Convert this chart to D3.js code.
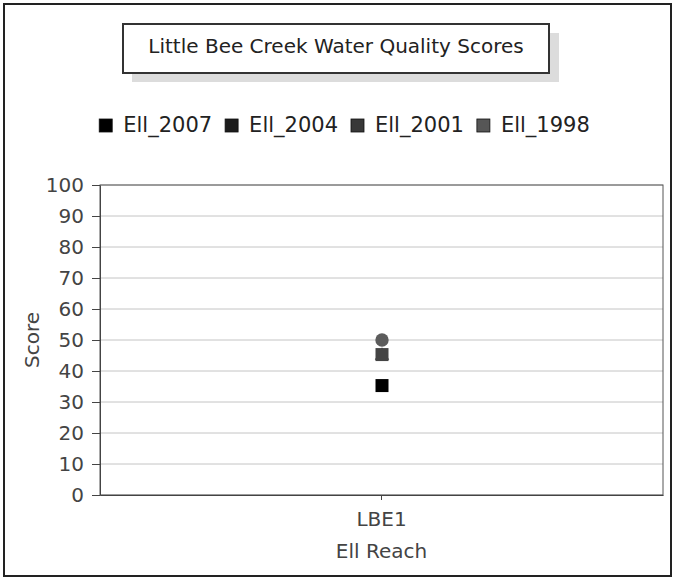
<!DOCTYPE html>
<html>
<head>
<meta charset="utf-8">
<script src="https://cdn.jsdelivr.net/npm/d3@7"></script>
<style>
  body { margin: 0; background: #fff; }
  svg { display: block; font-family: "DejaVu Sans", sans-serif; }
</style>
</head>
<body>
<div id="chart"></div>
<script>
let width = 675;
let height = 579;

// data
const title = "Little Bee Creek Water Quality Scores";
const reaches = ["LBE1"];
const seriesNames = ["EII_2007", "EII_2004", "EII_2001", "EII_1998"];
const seriesLabels = ["Ell_2007", "Ell_2004", "Ell_2001", "Ell_1998"];
const scores2007 = [35.3];
const scores2004 = [45.0];
const scores2001 = [45.3];
const scores1998 = [50];
const yTicks = [0, 10, 20, 30, 40, 50, 60, 70, 80, 90, 100];

const allScores = [scores2007, scores2004, scores2001, scores1998];
const legendColor = ["#000000", "#1c1c1c", "#383838", "#565656"];
const markColor = ["#000000", "#3a3a3a", "#444444", "#5c5c5c"];
const shapes = [d3.symbolSquare, d3.symbolTriangle, d3.symbolSquare, d3.symbolCircle];

const margin = {left: 100, top: 185, right: 12, bottom: 84};

const svg = d3.select("#chart").append("svg")
    .attr("width", width)
    .attr("height", height);

// outer frame
svg.append("rect")
    .attr("x", 4).attr("y", 4)
    .attr("width", width - 8).attr("height", height - 7)
    .attr("fill", "#fff")
    .attr("stroke", "#222")
    .attr("stroke-width", 2);

// title box with shadow
svg.append("rect")
    .attr("x", 132).attr("y", 33)
    .attr("width", 427).attr("height", 49)
    .attr("fill", "#dcdcdc");
svg.append("rect")
    .attr("x", 123).attr("y", 24)
    .attr("width", 426).attr("height", 49)
    .attr("fill", "#fff")
    .attr("stroke", "#333")
    .attr("stroke-width", 2);
svg.append("text")
    .attr("x", 336).attr("y", 53)
    .attr("text-anchor", "middle")
    .style("font-size", "20px")
    .attr("fill", "#222")
    .text(title);

// legend
const legend = svg.append("g").attr("class", "legend");
let lx = 0;
seriesLabels.forEach((name, i) => {
  const g = legend.append("g").attr("transform", `translate(${lx},0)`);
  g.append("rect")
      .attr("x", 0).attr("y", -13)
      .attr("width", 13).attr("height", 13)
      .attr("fill", legendColor[i])
      .attr("stroke", "#111").attr("stroke-width", 0.8);
  const t = g.append("text")
      .attr("x", 24).attr("y", 0)
      .style("font-size", "21px")
      .attr("fill", "#222")
      .text(name);
  lx += 24 + t.node().getComputedTextLength() + 13;
});
lx -= 13;
legend.attr("transform", `translate(${(width - lx) / 2 + 7},132)`);

// scales
const x = d3.scaleBand()
    .domain(reaches)
    .range([margin.left, width - margin.right]);

const y = d3.scaleLinear()
    .domain([0, 100])
    .range([height - margin.bottom, margin.top]);

// gridlines
svg.append("g")
  .selectAll("line")
  .data(yTicks)
  .join("line")
    .attr("x1", margin.left).attr("x2", width - margin.right)
    .attr("y1", d => y(d)).attr("y2", d => y(d))
    .attr("stroke", "#c4c4c4");

// plot border
svg.append("rect")
    .attr("x", margin.left).attr("y", margin.top)
    .attr("width", width - margin.right - margin.left)
    .attr("height", height - margin.bottom - margin.top)
    .attr("fill", "none")
    .attr("stroke", "#555");

// y axis
const yAxis = svg.append("g")
    .attr("transform", `translate(${margin.left},0)`)
    .call(d3.axisLeft(y).tickValues(yTicks).tickSize(8).tickPadding(8).tickSizeOuter(0));
yAxis.select(".domain").attr("stroke", "#444");
yAxis.selectAll(".tick line").attr("stroke", "#444");
yAxis.selectAll("text")
    .style("font-size", "20px")
    .style("font-family", "DejaVu Sans")
    .attr("fill", "#444");

// x axis
const xAxis = svg.append("g")
    .attr("transform", `translate(0,${height - margin.bottom})`)
    .call(d3.axisBottom(x).tickSize(5).tickPadding(12).tickSizeOuter(0));
xAxis.select(".domain").attr("stroke", "#444");
xAxis.selectAll(".tick line").attr("stroke", "#444");
xAxis.selectAll("text")
    .style("font-size", "20px")
    .style("font-family", "DejaVu Sans")
    .attr("fill", "#444");

// axis titles
svg.append("text")
    .attr("x", x.bandwidth() / 2 + margin.left)
    .attr("y", 558)
    .attr("text-anchor", "middle")
    .style("font-size", "20px")
    .attr("fill", "#444")
    .text("Ell Reach");

svg.append("text")
    .attr("transform", "translate(39,340) rotate(-90)")
    .attr("text-anchor", "middle")
    .style("font-size", "20px")
    .attr("fill", "#444")
    .text("Score");

// markers
allScores.forEach((vals, i) => {
  const size = shapes[i] === d3.symbolCircle ? 140 : (shapes[i] === d3.symbolTriangle ? 90 : 169);
  svg.append("g")
    .selectAll("path")
    .data(vals)
    .join("path")
      .attr("transform", (d, j) => `translate(${x(reaches[j]) + x.bandwidth() / 2 + 0.5},${y(d)})`)
      .attr("d", d3.symbol().type(shapes[i]).size(size))
      .attr("fill", markColor[i]);
});
</script>
</body>
</html>
